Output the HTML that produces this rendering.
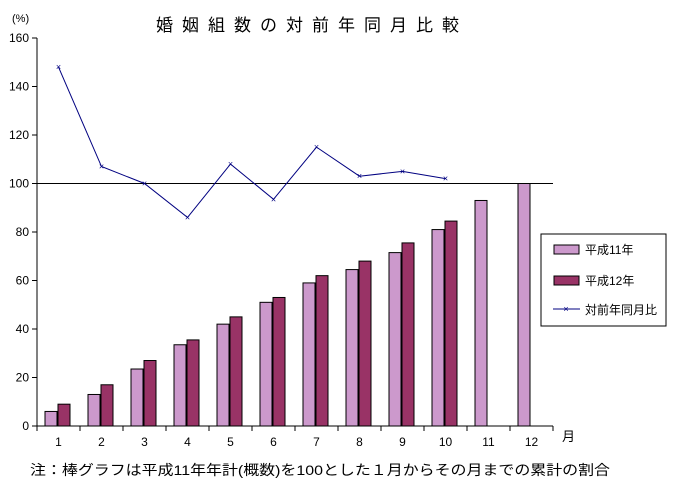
<!DOCTYPE html>
<html><head><meta charset="utf-8"><style>
body{margin:0;background:#fff}
svg text{font-family:"Liberation Sans","Noto Sans CJK JP",sans-serif;}
</style></head><body>
<svg width="675" height="490" xmlns="http://www.w3.org/2000/svg">
<text x="312" y="31" text-anchor="middle" font-size="17" letter-spacing="9">婚姻組数の対前年同月比較</text>
<text x="12" y="22" font-size="11">(%)</text>
<g id="axes"></g>
<g id="bars"></g>
<g id="line"></g>
<text x="562" y="441" font-size="13">月</text>
<text x="30" y="475" font-size="14" textLength="580" lengthAdjust="spacingAndGlyphs">注：棒グラフは平成11年年計(概数)を100とした１月からその月までの累計の割合</text>
<g>
<rect x="541" y="234" width="125" height="92" fill="#fff" stroke="#000"/>
<rect x="554" y="245" width="25" height="9" fill="#cc99cc" stroke="#000"/>
<text x="585" y="254" font-size="12">平成11年</text>
<rect x="554" y="276" width="25" height="9" fill="#993366" stroke="#000"/>
<text x="585" y="285" font-size="12">平成12年</text>
<line x1="553" y1="309" x2="580" y2="309" stroke="#000080"/>
<text x="566" y="312" font-size="9" fill="#000080" text-anchor="middle">×</text>
<text x="585" y="314" font-size="12">対前年同月比</text>
</g>
</svg>
<script>
const categories=["1","2","3","4","5","6","7","8","9","10","11","12"];
const h11=[6,13,23.5,33.5,42,51,59,64.5,71.5,81,93,100];
const h12=[9,17,27,35.5,45,53,62,68,75.5,84.5,null,null];
const ratio=[148,107,100,86,108,93.5,115,103,105,102];
const yTicks=[0,20,40,60,80,100,120,140,160];
const NS="http://www.w3.org/2000/svg";
const x0=37,cw=43,y0=426,yTop=38;
const Y=v=>y0-(v/160)*(y0-yTop);
const X=i=>x0+i*cw;
function mk(tag,attrs,parent){const e=document.createElementNS(NS,tag);for(const k in attrs)e.setAttribute(k,attrs[k]);parent.appendChild(e);return e;}
const ax=document.getElementById('axes'),bg=document.getElementById('bars'),lg=document.getElementById('line');
const ya=mk('line',{x1:x0,y1:yTop,x2:x0,y2:y0,stroke:'#000'},ax);


const xa=mk('line',{x1:x0,y1:y0,x2:x0+12*cw,y2:y0,stroke:'#000'},ax);


const ref=mk('line',{x1:x0,y1:Y(100),x2:x0+12*cw,y2:Y(100),stroke:'#000'},ax);


yTicks.forEach(t=>{mk('line',{x1:x0-5,y1:Y(t),x2:x0,y2:Y(t),stroke:'#000'},ax);
const tx=mk('text',{x:x0-8,y:Y(t)+4,'text-anchor':'end','font-size':12},ax);tx.textContent=t;

});
for(let i=0;i<=12;i++)mk('line',{x1:X(i),y1:y0,x2:X(i),y2:y0+5,stroke:'#000'},ax);
categories.forEach((c,i)=>{const tx=mk('text',{x:X(i)+cw/2,y:y0+20,'text-anchor':'middle','font-size':12},ax);tx.textContent=c;


if(h11[i]!=null){const r=mk('rect',{x:X(i)+8,y:Y(h11[i]),width:12,height:y0-Y(h11[i]),fill:'#cc99cc',stroke:'#000'},bg);

}
if(h12[i]!=null){const r=mk('rect',{x:X(i)+21,y:Y(h12[i]),width:12,height:y0-Y(h12[i]),fill:'#993366',stroke:'#000'},bg);

}
});
const pts=ratio.map((v,i)=>(X(i)+cw/2)+','+Y(v)).join(' ');
const pl=mk('polyline',{points:pts,fill:'none',stroke:'#000080'},lg);


ratio.forEach((v,i)=>{const t=mk('text',{x:X(i)+cw/2,y:Y(v)+3,'text-anchor':'middle','font-size':9,fill:'#000080'},lg);t.textContent='×';

});
</script>
</body></html>
